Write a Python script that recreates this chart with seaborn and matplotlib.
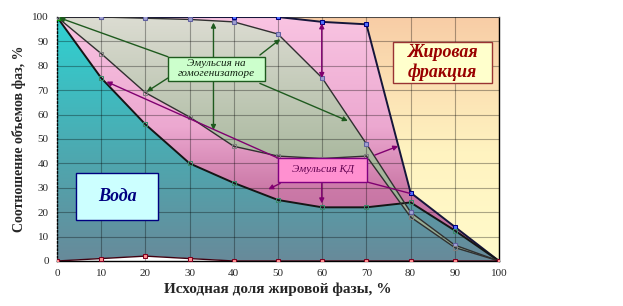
import numpy as np
import matplotlib
matplotlib.use("Agg")
import matplotlib.pyplot as plt
import seaborn as sns
from matplotlib.colors import LinearSegmentedColormap
from matplotlib.patches import PathPatch, Rectangle

# ---- data ----
fat_share = [0, 10, 20, 30, 40, 50, 60, 70, 80, 90, 100]
outer_top = [100, 100, 100, 100, 100, 100, 98, 97, 28, 14, 0]
homog_top = [100, 100, 99.5, 99, 98, 93, 75, 48, 20, 6.5, 0]
homog_bot = [100, 85, 69, 59, 47, 43, 42, 43, 18, 5.5, 0]
water_top = [100, 75, 56, 40, 32, 25, 22, 22, 24, 12.5, 0]
fat_bottom = [0, 1, 2, 1, 0, 0, 0, 0, 0, 0, 0]
ticks = [0, 10, 20, 30, 40, 50, 60, 70, 80, 90, 100]

sns.set_style("white")
plt.rcParams["font.family"] = ["Liberation Serif", "DejaVu Serif"]

fig = plt.figure(figsize=(6.23, 3.06), dpi=100)
ax = fig.add_axes([57 / 623, 45 / 306, 442 / 623, 244 / 306])


def gradient_image(stops, z):
    cmap = LinearSegmentedColormap.from_list("g", stops)
    grad = np.linspace(0, 1, 256).reshape(-1, 1)
    return ax.imshow(grad, cmap=cmap, extent=[0, 100, 0, 100], origin="lower",
                     aspect="auto", zorder=z, interpolation="bilinear")


def gradient_area(lower, upper, stops, z):
    coll = ax.fill_between(fat_share, lower, upper, facecolor="none",
                           edgecolor="none", zorder=z)
    path = coll.get_paths()[0]
    patch = PathPatch(path, transform=ax.transData, facecolor="none", edgecolor="none")
    ax.add_patch(patch)
    im = gradient_image(stops, z)
    im.set_clip_path(patch)


# background (fat fraction)
gradient_image([(0, "#FFFBCB"), (0.45, "#FFF3C0"), (1, "#F8CDA6")], 0.2)
zeros = [0] * len(fat_share)
# outer pink area
gradient_area(zeros, outer_top, [(0, "#B8689A"), (0.3, "#CC7AA8"), (0.55, "#ECA8D0"), (1, "#F9C4E2")], 0.5)
# water
gradient_area(zeros, water_top, [(0, "#688A9A"), (0.4, "#4FA6AE"), (1, "#2FD2D2")], 0.8)
# homogenizer emulsion band
gradient_area(homog_bot, homog_top, [(0, "#8FA890"), (0.4, "#A9B89E"), (1, "#DCDCD2")], 1.0)
# bottom white sliver
ax.fill_between(fat_share, zeros, fat_bottom, color="white", zorder=1.2)

# grid above areas
ax.set_axisbelow(False)
ax.grid(True, color="black", alpha=0.33, lw=0.8)

# series lines
sns.lineplot(x=fat_share, y=outer_top, ax=ax, color="#15153A", lw=1.4, sort=False,
             marker="s", markersize=3.5, markerfacecolor="#5070FF",
             markeredgecolor="#000080", zorder=3)
sns.lineplot(x=fat_share, y=homog_top, ax=ax, color="#303030", lw=1.0, sort=False,
             marker="s", markersize=3, markerfacecolor="#A0A0D0",
             markeredgecolor="#6060A0", zorder=3.2)
sns.lineplot(x=fat_share, y=homog_bot, ax=ax, color="#303030", lw=1.0, sort=False,
             marker="s", markersize=3, markerfacecolor="none",
             markeredgecolor="#808080", zorder=3.2)
sns.lineplot(x=fat_share, y=water_top, ax=ax, color="#151515", lw=1.4, sort=False,
             marker="s", markersize=3.5, markerfacecolor="none",
             markeredgecolor="#3A8A6A", zorder=3.1)
sns.lineplot(x=fat_share, y=fat_bottom, ax=ax, color="#400010", lw=1.0, sort=False,
             marker="s", markersize=3.5, markerfacecolor="#FF9090",
             markeredgecolor="#800020", zorder=3.3)
ax.plot([0], [100], marker="s", ms=4, mfc="none", mec="#00A000", zorder=3.5)

# ---- annotations ----
def arrow(start, end, color, style="-|>"):
    ax.annotate("", xy=end, xytext=start, zorder=5,
                arrowprops=dict(arrowstyle=style, color=color, lw=1.0,
                                mutation_scale=7, shrinkA=0, shrinkB=0))


def box(x0, y0, x1, y1, fc, ec, text, tcolor, size, weight="normal"):
    ax.add_patch(Rectangle((x0, y0), x1 - x0, y1 - y0, facecolor=fc, edgecolor=ec,
                           lw=1.0, zorder=6))
    ax.text((x0 + x1) / 2, (y0 + y1) / 2, text, ha="center", va="center",
            color=tcolor, fontsize=size, fontstyle="italic", fontweight=weight,
            zorder=7, linespacing=1.15)


green = "#1E5A1E"
arrow((25.1, 83.7), (0.5, 99.7), green)
arrow((25.1, 75.0), (20.3, 69.4), green)
arrow((45.9, 84.4), (50.5, 90.9), green)
arrow((45.9, 72.8), (65.8, 57.4), green)
arrow((35.4, 97.7), (35.4, 53.7), green, "<|-|>")

purple = "#800070"
arrow((59.9, 97.4), (59.9, 75.0), purple, "<|-|>")
arrow((50.1, 42.1), (11.2, 73.5), purple)
arrow((71.9, 43.4), (77.2, 47.1), purple)
arrow((50.5, 31.8), (47.8, 29.4), purple)
arrow((59.9, 31.8), (59.9, 23.6), purple)
arrow((70.1, 32.4), (79.9, 27.7), purple, "-")

box(25.1, 73.8, 47.1, 83.7, "#CCFFCC", "#1E5A1E", "Эмульсия на\nгомогенизаторе",
    "#102010", 8)
box(50.1, 32.5, 70.1, 42.1, "#FF90D0", "#800080", "Эмульсия КД", "#600050", 8)
box(4.3, 16.8, 22.9, 36.2, "#CCFFFF", "#000080", "Вода", "#000080", 13, "bold")
box(76.1, 72.8, 98.4, 89.9, "#FFFFCC", "#993333", "Жировая\nфракция", "#990000", 13, "bold")

# ---- axes ----
ax.set_xlim(0, 100)
ax.set_ylim(0, 100)
ax.set_xticks(ticks)
ax.set_yticks(ticks)
ax.set_xticklabels([str(t) for t in ticks])
ax.set_yticklabels([str(t) for t in ticks])
ax.tick_params(axis="both", labelsize=8, length=2, color="black", pad=4)
ax.set_xlabel("Исходная доля жировой фазы, %", fontsize=11, fontweight="bold", labelpad=3)
ax.set_ylabel("Соотношение объемов фаз, %", fontsize=10, fontweight="bold", labelpad=4)
for s in ["left", "bottom", "right", "top"]:
    ax.spines[s].set_color("black")
    ax.spines[s].set_linewidth(1.0)
ax.spines["left"].set_linestyle(":")
ax.spines["top"].set_color("#606060")
ax.spines["top"].set_linewidth(0.6)

fig.savefig("out.png", dpi=100)
